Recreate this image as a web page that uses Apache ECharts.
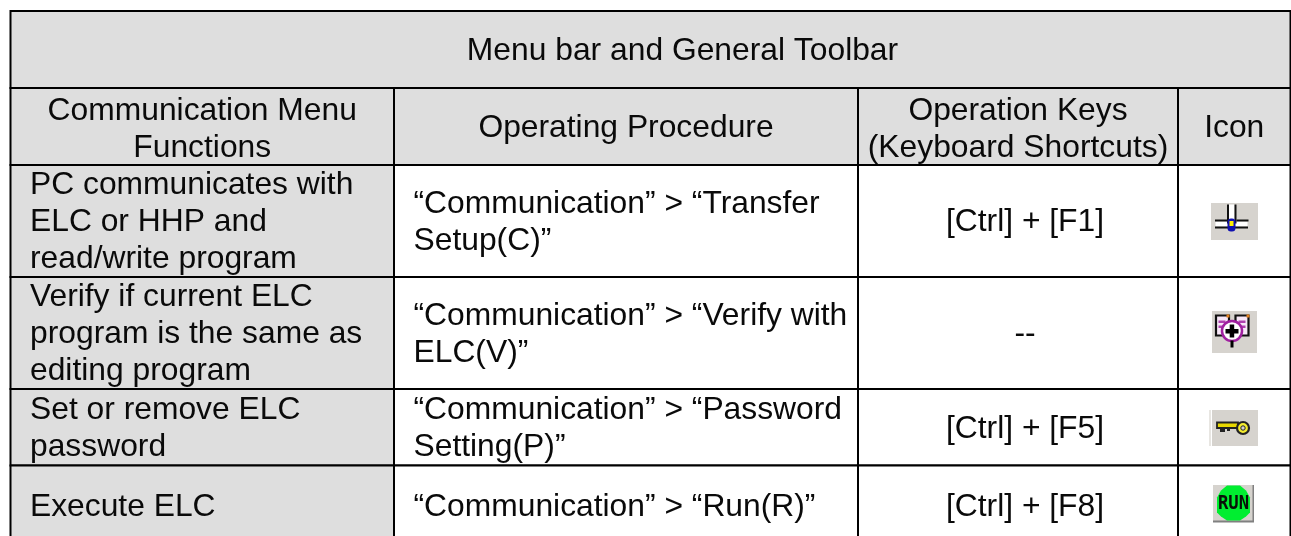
<!DOCTYPE html>
<html>
<head>
<meta charset="utf-8">
<title>Menu bar and General Toolbar</title>
<style>
  html, body { margin: 0; padding: 0; background: #fff; }
  #main { width: 1291px; height: 536px; }
</style>
<script src="https://cdn.jsdelivr.net/npm/echarts@6/dist/echarts.min.js"></script>
</head>
<body>
<div id="main"></div>
<script>
// table content
const tableTitle = 'Menu bar and General Toolbar';
const columnHeaders = ['Communication Menu\nFunctions', 'Operating Procedure', 'Operation Keys\n(Keyboard Shortcuts)', 'Icon'];
const menuFunctions = [
  'PC communicates with\nELC or HHP and\nread/write program',
  'Verify if current ELC\nprogram is the same as\nediting program',
  'Set or remove ELC\npassword',
  'Execute ELC'
];
const procedures = [
  '“Communication” > “Transfer\nSetup(C)”',
  '“Communication” > “Verify with\nELC(V)”',
  '“Communication” > “Password\nSetting(P)”',
  '“Communication” > “Run(R)”'
];
const shortcuts = ['[Ctrl] + [F1]', '--', '[Ctrl] + [F5]', '[Ctrl] + [F8]'];
const icons = ['transfer', 'verify', 'password', 'run'];

// layout, in axis units (the axes run 1:1 with the page)
const colEdges = [10.5, 394, 858, 1178, 1290.5];
const rowEdges = [11, 88, 165, 277, 389, 465.5, 560];
const FONT = '31.8px "Liberation Sans", Arial, sans-serif';
const HEADER_FILL = '#dedede';
const LINE_HEIGHT = 37;
const PAD = 19.5;

const cells = [];
function addCell(c0, c1, r, text, fill, align, dx, dy) {
  cells.push({ value: [colEdges[c0], rowEdges[r], colEdges[c1], rowEdges[r + 1]], text, fill, align, dx: dx || 0, dy: dy || 0 });
}
// the title sits right of the table's middle in the original
addCell(0, 4, 0, tableTitle, HEADER_FILL, 'center', 32);
columnHeaders.forEach((h, i) => addCell(i, i + 1, 1, h, HEADER_FILL, 'center', 0, h.includes('\n') ? 2 : 0));
menuFunctions.forEach((t, i) => {
  addCell(0, 1, i + 2, t, HEADER_FILL, 'left');
  addCell(1, 2, i + 2, procedures[i], '#fff', 'left');
  addCell(2, 3, i + 2, shortcuts[i], '#fff', 'center', 7);
  addCell(3, 4, i + 2, '', '#fff', 'center');
});

function renderCell(params, api) {
  const cell = cells[params.dataIndex];
  const p0 = api.coord([api.value(0), api.value(1)]);
  const p1 = api.coord([api.value(2), api.value(3)]);
  // the last row runs off the bottom of the page, so its text sits on a fixed centre
  const midY = p1[1] > 536 ? 507 : (p0[1] + p1[1]) / 2 + 1.5;
  return {
    type: 'group',
    children: [
      {
        type: 'rect',
        shape: { x: p0[0], y: p0[1], width: p1[0] - p0[0], height: p1[1] - p0[1] },
        style: { fill: cell.fill, stroke: '#000', lineWidth: 2 }
      },
      {
        type: 'text',
        style: {
          text: cell.text,
          x: (cell.align === 'left' ? p0[0] + PAD : (p0[0] + p1[0]) / 2) + cell.dx,
          y: midY + cell.dy,
          fill: '#0a0a0a',
          font: FONT,
          lineHeight: LINE_HEIGHT,
          align: cell.align,
          verticalAlign: 'middle'
        }
      }
    ]
  };
}

const BTN = '#d6d3ce';
function r(x, y, w, h, fill) { return { type: 'rect', shape: { x, y, width: w, height: h }, style: { fill } }; }
function c(x, y, rad, fill, stroke, lw) {
  return { type: 'circle', shape: { cx: x, cy: y, r: rad }, style: { fill, stroke, lineWidth: lw || 0 } };
}

// toolbar glyphs, drawn around the centre of the icon cell
const iconParts = {
  transfer: () => [
    r(-23.5, -18.5, 47, 37, BTN),
    r(-5.5, -17, 5.5, 18, '#fff'), r(-19, 0, 32, 5, '#fff'),
    r(-7.5, -17, 2, 19, '#111'), r(0, -17, 2, 19, '#111'),
    r(-19.5, -2, 12, 2, '#111'), r(2, -2, 12, 2, '#111'), r(-19.5, 5, 33, 2, '#111'),
    { type: 'rect', shape: { x: -7, y: -3, width: 8, height: 13, r: 3.5 }, style: { fill: '#1010b0' } },
    r(-5, -0.5, 4, 5, '#ffee00')
  ],
  verify: () => [
    r(-22.5, -21.5, 45, 42, BTN),
    { type: 'rect', shape: { x: -18.5, y: -17, width: 13, height: 20 }, style: { fill: '#f8e8f8', stroke: '#111', lineWidth: 2.2 } },
    { type: 'rect', shape: { x: 1, y: -17, width: 13, height: 20 }, style: { fill: '#f8e8f8', stroke: '#111', lineWidth: 2.2 } },
    r(-8, -18, 3, 3, '#e08020'), r(12, -18, 3, 3, '#e08020'),
    r(-16, -12, 7, 2.5, '#b040b0'), r(-16, -7, 6, 2.5, '#b040b0'), r(4, -12, 7, 2.5, '#b040b0'), r(5, -7, 6, 2.5, '#b040b0'),
    c(-2.5, -1.5, 10, '#fff', '#a020a0', 2.5),
    r(-9, -3.5, 13, 4.5, '#000'), r(-4.8, -8, 4.5, 13, '#000'), r(-4, 8, 3, 7, '#000')
  ],
  password: () => [
    r(-22, -18, 46, 36, BTN),
    r(-25, -18, 2, 36, '#e8e6e2'),
    { type: 'rect', shape: { x: -17, y: -5.5, width: 21, height: 5.5 }, style: { fill: '#e8d800', stroke: '#222', lineWidth: 1.8 } },
    r(-14, 0, 5, 4, '#222'), r(-7, 0, 3, 3, '#222'),
    c(9, 0, 6, '#f4ec30', '#222', 2.2),
    c(9, 0, 2.2, BTN, '#222', 1)
  ],
  run: () => [
    r(-20, -19.5, 41, 37, BTN),
    r(-20, 16, 41, 2, '#808080'), r(19.5, -19.5, 1.5, 37, '#808080'),
    { type: 'polygon', shape: { points: [[-6, -19], [7, -19], [13, -14], [17, -7], [17, 8], [13, 12], [7, 16], [-6, 16], [-12, 12], [-16, 8], [-16, -7], [-12, -14]] }, style: { fill: '#00ee30' } },
    { type: 'text', style: { text: 'RUN', x: 0, y: 0, align: 'center', verticalAlign: 'middle', fill: '#081008', font: 'bold 15px "DejaVu Sans Mono", monospace' }, scaleX: 1.15, scaleY: 1.35, x: 0.5, y: -1 }
  ]
};

// icon centre: the column middle, and a row anchor
const iconCentres = [[1234.5, 221.5], [1234.5, 332.5], [1234, 428], [1233, 504.5]];

const chart = echarts.init(document.getElementById('main'), null, { renderer: 'canvas' });
chart.setOption({
  animation: false,
  backgroundColor: '#fff',
  grid: { left: 0, right: 0, top: 0, bottom: 0 },
  xAxis: { type: 'value', min: 0, max: 1291, show: false },
  yAxis: { type: 'value', min: 0, max: 536, inverse: true, show: false },
  series: [
    {
      type: 'custom',
      silent: true,
      clip: true,
      coordinateSystem: 'cartesian2d',
      encode: { x: [0, 2], y: [1, 3] },
      data: cells.map(d => d.value),
      renderItem: renderCell
    },
    {
      type: 'custom',
      silent: true,
      coordinateSystem: 'cartesian2d',
      encode: { x: 0, y: 1 },
      data: iconCentres,
      renderItem: function (params, api) {
        const p = api.coord([api.value(0), api.value(1)]);
        return { type: 'group', x: p[0], y: p[1], children: iconParts[icons[params.dataIndex]]() };
      }
    }
  ]
});
</script>
</body>
</html>
